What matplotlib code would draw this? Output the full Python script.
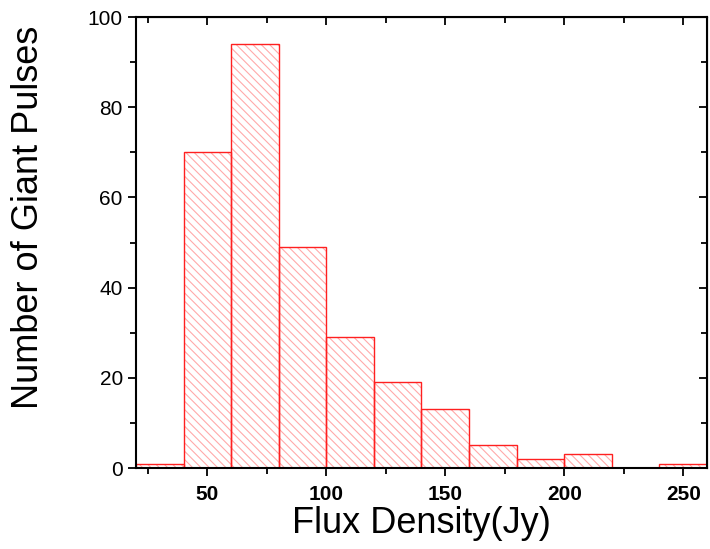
import matplotlib
matplotlib.use("Agg")
import matplotlib.pyplot as plt
import numpy as np
from matplotlib.ticker import MultipleLocator

plt.rcParams['font.family'] = ['Liberation Sans', 'DejaVu Sans']
plt.rcParams['hatch.linewidth'] = 0.8

bin_edges = [20, 40, 60, 80, 100, 120, 140, 160, 180, 200, 220, 240, 260]
counts = [1, 70, 94, 49, 29, 19, 13, 5, 2, 3, 0, 1]

fig = plt.figure(figsize=(7.10, 5.49), dpi=100)
ax = fig.add_axes([0.1915, 0.1475, 0.8043, 0.8215])

lefts = np.array(bin_edges[:-1])
widths = np.diff(bin_edges)
# hatch layer (light red)
ax.bar(lefts, counts, width=widths, align='edge', facecolor='white',
       edgecolor='#ffaaaa', linewidth=0, hatch='\\\\\\\\')
# outline layer
ax.bar(lefts, counts, width=widths, align='edge', facecolor='none',
       edgecolor='#ff2020', linewidth=1.0)

ax.set_xlim(20, 260)
ax.set_ylim(0, 100)
ax.xaxis.set_major_locator(MultipleLocator(50))
ax.xaxis.set_minor_locator(MultipleLocator(25))
ax.yaxis.set_major_locator(MultipleLocator(20))
ax.yaxis.set_minor_locator(MultipleLocator(10))

ax.tick_params(axis='both', which='major', direction='out', length=6, width=1.3,
               labelsize=15)
ax.tick_params(axis='both', which='minor', direction='out', length=4, width=1.3)
ax.tick_params(axis='x', which='major', pad=6)
for lab in ax.get_xticklabels():
    lab.set_fontweight('bold')

for sp in ax.spines.values():
    sp.set_linewidth(1.5)

# top and right ticks pointing inward
secx = ax.secondary_xaxis('top')
secx.xaxis.set_major_locator(MultipleLocator(50))
secx.xaxis.set_minor_locator(MultipleLocator(25))
secx.tick_params(which='major', direction='in', length=6, width=1.3, labeltop=False)
secx.tick_params(which='minor', direction='in', length=4, width=1.3)
secy = ax.secondary_yaxis('right')
secy.yaxis.set_major_locator(MultipleLocator(20))
secy.yaxis.set_minor_locator(MultipleLocator(10))
secy.tick_params(which='major', direction='in', length=6, width=1.3, labelright=False)
secy.tick_params(which='minor', direction='in', length=4, width=1.3)

ax.set_xlabel('Flux Density(Jy)', fontsize=26)
ax.set_ylabel('Number of Giant Pulses', fontsize=26)
ax.xaxis.set_label_coords(0.5, -0.085)
ax.yaxis.set_label_coords(-0.158, 0.556)

fig.savefig('out.png', dpi=100)
